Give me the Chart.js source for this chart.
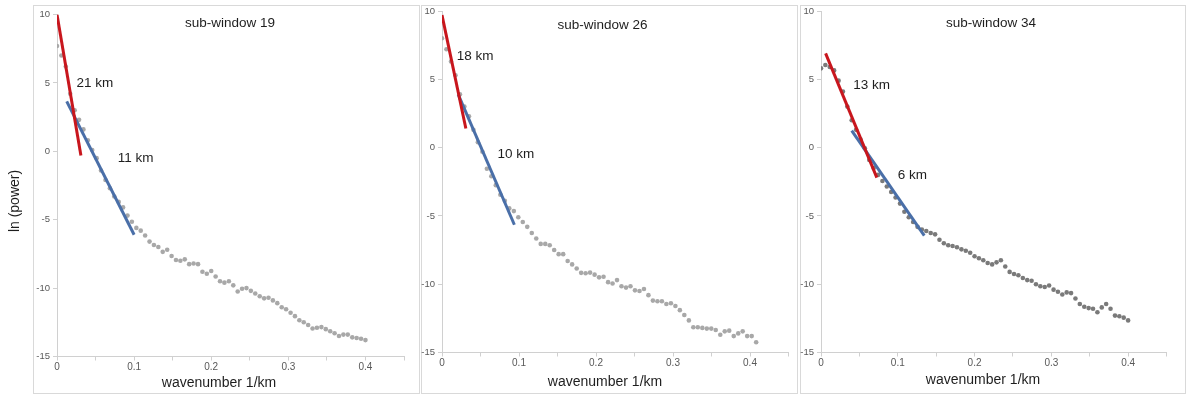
<!DOCTYPE html>
<html>
<head>
<meta charset="utf-8">
<script src="https://cdn.jsdelivr.net/npm/chart.js@4.4.1/dist/chart.umd.min.js"></script>
<style>
  html, body { margin: 0; padding: 0; background: #fff; }
  #wrap { position: relative; width: 1186px; height: 396px; overflow: hidden; }
  .frame { position: absolute; border: 1px solid #d9d9d9; box-sizing: border-box; }
  canvas.layer { position: absolute; left: 0; top: 0; }
</style>
</head>
<body>
<div id="wrap">
  <div class="frame" style="left:33px;top:5px;width:387px;height:389px"></div>
  <div class="frame" style="left:421px;top:5px;width:377px;height:389px"></div>
  <div class="frame" style="left:800px;top:5px;width:386px;height:389px"></div>
  <canvas id="c19" class="layer" width="1186" height="396"></canvas>
  <canvas id="c26" class="layer" width="1186" height="396"></canvas>
  <canvas id="c34" class="layer" width="1186" height="396"></canvas>
</div>
<script>
// wavenumber grids (1/km)
const wavenumberA = [0, 0.0057, 0.0114, 0.0171, 0.0229, 0.0286, 0.0343, 0.04, 0.0457, 0.0514,
  0.0571, 0.0629, 0.0686, 0.0743, 0.08, 0.0857, 0.0914, 0.0971, 0.1029, 0.1086,
  0.1143, 0.12, 0.1257, 0.1314, 0.1371, 0.1429, 0.1486, 0.1543, 0.16, 0.1657,
  0.1714, 0.1771, 0.1829, 0.1886, 0.1943, 0.2, 0.2057, 0.2114, 0.2171, 0.2229,
  0.2286, 0.2343, 0.24, 0.2457, 0.2514, 0.2571, 0.2629, 0.2686, 0.2743, 0.28,
  0.2857, 0.2914, 0.2971, 0.3029, 0.3086, 0.3143, 0.32, 0.3257, 0.3314, 0.3371,
  0.3429, 0.3486, 0.3543, 0.36, 0.3657, 0.3714, 0.3771, 0.3829, 0.3886, 0.3943, 0.4];
const wavenumberB = [0, 0.0058, 0.0117, 0.0175, 0.0233, 0.0291, 0.035, 0.0408, 0.0466, 0.0525,
  0.0583, 0.0641, 0.0699, 0.0758, 0.0816, 0.0874, 0.0933, 0.0991, 0.1049, 0.1107,
  0.1166, 0.1224, 0.1282, 0.1341, 0.1399, 0.1457, 0.1515, 0.1574, 0.1632, 0.169,
  0.1749, 0.1807, 0.1865, 0.1923, 0.1982, 0.204, 0.2098, 0.2157, 0.2215, 0.2273,
  0.2331, 0.239, 0.2448, 0.2506, 0.2565, 0.2623, 0.2681, 0.2739, 0.2798, 0.2856,
  0.2914, 0.2973, 0.3031, 0.3089, 0.3147, 0.3206, 0.3264, 0.3322, 0.3381, 0.3439,
  0.3497, 0.3555, 0.3614, 0.3672, 0.373, 0.3789, 0.3847, 0.3905, 0.3963, 0.4022, 0.408];

// ln(power) per sub-window
const power19 = [7.7, 7.0, 6.2, 4.2, 3.0, 2.3, 1.6, 0.8, 0.1, -0.5,
  -1.4, -2.1, -2.7, -3.3, -3.7, -4.1, -4.7, -5.15, -5.6, -5.8,
  -6.15, -6.6, -6.85, -7.0, -7.35, -7.2, -7.65, -7.95, -8.0, -7.9,
  -8.25, -8.2, -8.25, -8.8, -8.95, -8.75, -9.15, -9.5, -9.6, -9.5,
  -9.8, -10.25, -10.05, -10.0, -10.2, -10.4, -10.6, -10.75, -10.7, -10.9,
  -11.1, -11.4, -11.55, -11.8, -12.05, -12.35, -12.5, -12.7, -12.95, -12.9,
  -12.85, -13.0, -13.15, -13.3, -13.5, -13.4, -13.4, -13.6, -13.65, -13.7, -13.8];
const power26 = [8.0, 7.2, 6.3, 5.3, 3.9, 3.0, 2.3, 1.3, 0.4, -0.3,
  -1.55, -2.1, -2.75, -3.45, -3.9, -4.45, -4.65, -5.1, -5.45, -5.8,
  -6.25, -6.65, -7.05, -7.05, -7.15, -7.5, -7.8, -7.8, -8.3, -8.55,
  -8.85, -9.17, -9.2, -9.15, -9.3, -9.5, -9.45, -9.85, -9.95, -9.7,
  -10.15, -10.25, -10.15, -10.45, -10.5, -10.35, -10.8, -11.2, -11.25, -11.25,
  -11.45, -11.4, -11.6, -11.9, -12.25, -12.65, -13.15, -13.15, -13.2, -13.25,
  -13.25, -13.35, -13.7, -13.45, -13.4, -13.8, -13.6, -13.45, -13.8, -13.8, -14.25];
const power34 = [5.8, 6.05, 5.9, 5.65, 4.9, 4.1, 3.0, 2.0, 1.3, 0.6,
  -0.05, -0.9, -1.5, -2.0, -2.45, -2.85, -3.25, -3.65, -4.1, -4.7,
  -5.1, -5.45, -5.8, -6.0, -6.1, -6.25, -6.35, -6.75, -7.0, -7.15,
  -7.2, -7.3, -7.45, -7.55, -7.7, -7.95, -8.1, -8.25, -8.45, -8.55,
  -8.4, -8.25, -8.7, -9.1, -9.25, -9.35, -9.55, -9.7, -9.75, -10.0,
  -10.15, -10.2, -10.1, -10.4, -10.55, -10.75, -10.6, -10.65, -11.05, -11.45,
  -11.65, -11.75, -11.8, -12.05, -11.7, -11.45, -11.8, -12.3, -12.35, -12.45, -12.65];

// fitted slope segments (end points)
const deep19X = [0, 0.031], deep19Y = [10.0, -0.3];
const shallow19X = [0.0126, 0.100], shallow19Y = [3.65, -6.1];
const deep26X = [0, 0.031], deep26Y = [9.7, 1.4];
const shallow26X = [0.021, 0.094], shallow26Y = [3.9, -5.65];
const deep34X = [0.006, 0.0727], deep34Y = [6.9, -2.2];
const shallow34X = [0.040, 0.1345], shallow34Y = [1.25, -6.45];

const depthLabels19 = ['21 km', '11 km'];
const depthLabels26 = ['18 km', '10 km'];
const depthLabels34 = ['13 km', '6 km'];
const panelTitles = ['sub-window 19', 'sub-window 26', 'sub-window 34'];

const xTicks = [0, 0.05, 0.1, 0.15, 0.2, 0.25, 0.3, 0.35, 0.4, 0.45];
const xTickLabels = ['0', '', '0.1', '', '0.2', '', '0.3', '', '0.4', ''];
const yTicks = [-15, -10, -5, 0, 5, 10];
const yTickLabels = ['-15', '-10', '-5', '0', '5', '10'];

const FONT = '"Liberation Sans", Arial, sans-serif';
const W = 1186, H = 396;
const Y_AXIS_W = 30, X_AXIS_H = 24;

function toPoints(xs, ys) {
  return xs.map((x, i) => ({ x: x, y: ys[i] }));
}

// draws titles and depth labels for one panel
function textPlugin(p) {
  return {
    id: 'panelText',
    afterDatasetsDraw(chart) {
      const ctx = chart.ctx;
      const x = chart.scales.x, y = chart.scales.y;
      ctx.save();
      ctx.fillStyle = '#1e1e1e';
      ctx.textAlign = 'center';
      ctx.textBaseline = 'middle';
      ctx.font = '13.5px ' + FONT;
      ctx.fillText(p.title, p.titlePos[0], p.titlePos[1]);
      p.labels.forEach((t, i) => {
        const at = p.labelAt[i];
        ctx.fillText(t, x.getPixelForValue(at[0]), y.getPixelForValue(at[1]));
      });
      ctx.font = '14px ' + FONT;
      ctx.fillText('wavenumber 1/km', p.xTitlePos[0], p.xTitlePos[1]);
      if (p.yTitlePos) {
        ctx.translate(p.yTitlePos[0], p.yTitlePos[1]);
        ctx.rotate(-Math.PI / 2);
        ctx.fillText('ln (power)', 0, 0);
      }
      ctx.restore();
    }
  };
}

function makePanel(id, p) {
  const a = p.area;
  new Chart(document.getElementById(id), {
    type: 'scatter',
    data: {
      datasets: [
        { data: toPoints(p.deepX, p.deepY), showLine: true, borderColor: '#c8161d', borderWidth: 3,
          pointRadius: 0, borderCapStyle: 'butt' },
        { data: toPoints(p.shallowX, p.shallowY), showLine: true, borderColor: '#4a6fa8', borderWidth: 3,
          pointRadius: 0, borderCapStyle: 'butt' },
        { data: toPoints(p.xs, p.ys), pointRadius: 2.3, pointBackgroundColor: p.dot, pointBorderWidth: 0 }
      ]
    },
    options: {
      responsive: false,
      animation: false,
      events: [],
      layout: { padding: { left: a.l - Y_AXIS_W, top: a.t, right: W - a.r, bottom: H - a.b - X_AXIS_H } },
      plugins: { legend: { display: false }, tooltip: { enabled: false } },
      scales: {
        x: {
          type: 'linear', min: 0, max: 0.45,
          afterBuildTicks: s => { s.ticks = xTicks.map(v => ({ value: v })); },
          afterFit: s => { s.height = X_AXIS_H; },
          ticks: { callback: (v, i) => xTickLabels[i], autoSkip: false, maxRotation: 0, padding: 1,
            color: '#595959', font: { family: FONT, size: 10 } },
          grid: { drawOnChartArea: false, tickLength: 4, color: '#d0d0d0' },
          border: { color: '#d0d0d0' }
        },
        y: {
          type: 'linear', min: -15, max: 10,
          afterBuildTicks: s => { s.ticks = yTicks.map(v => ({ value: v })); },
          afterFit: s => { s.width = Y_AXIS_W; },
          ticks: { callback: (v, i) => yTickLabels[i], autoSkip: false, padding: 3,
            color: '#595959', font: { family: FONT, size: 9.5 } },
          grid: { drawOnChartArea: false, tickLength: 4, color: '#d0d0d0' },
          border: { color: '#d0d0d0' }
        }
      }
    },
    plugins: [textPlugin(p)]
  });
}

makePanel('c19', {
  xs: wavenumberA, ys: power19, dot: '#a8a8a8',
  deepX: deep19X, deepY: deep19Y, shallowX: shallow19X, shallowY: shallow19Y,
  area: { l: 57, r: 404, t: 14.5, b: 356.5 },
  title: panelTitles[0], titlePos: [230, 23],
  labels: depthLabels19, labelAt: [[0.049, 5.0], [0.102, -0.5]],
  xTitlePos: [219, 383.5], yTitlePos: [15, 201]
});
makePanel('c26', {
  xs: wavenumberB, ys: power26, dot: '#a8a8a8',
  deepX: deep26X, deepY: deep26Y, shallowX: shallow26X, shallowY: shallow26Y,
  area: { l: 442, r: 788.5, t: 11, b: 352.5 },
  title: panelTitles[1], titlePos: [602.5, 25.5],
  labels: depthLabels26, labelAt: [[0.043, 6.7], [0.096, -0.5]],
  xTitlePos: [605, 382]
});
makePanel('c34', {
  xs: wavenumberA, ys: power34, dot: '#7a7a7a',
  deepX: deep34X, deepY: deep34Y, shallowX: shallow34X, shallowY: shallow34Y,
  area: { l: 821, r: 1166.5, t: 11, b: 352.5 },
  title: panelTitles[2], titlePos: [991, 23.5],
  labels: depthLabels34, labelAt: [[0.066, 4.55], [0.119, -2.0]],
  xTitlePos: [983, 380.5]
});
</script>
</body>
</html>
